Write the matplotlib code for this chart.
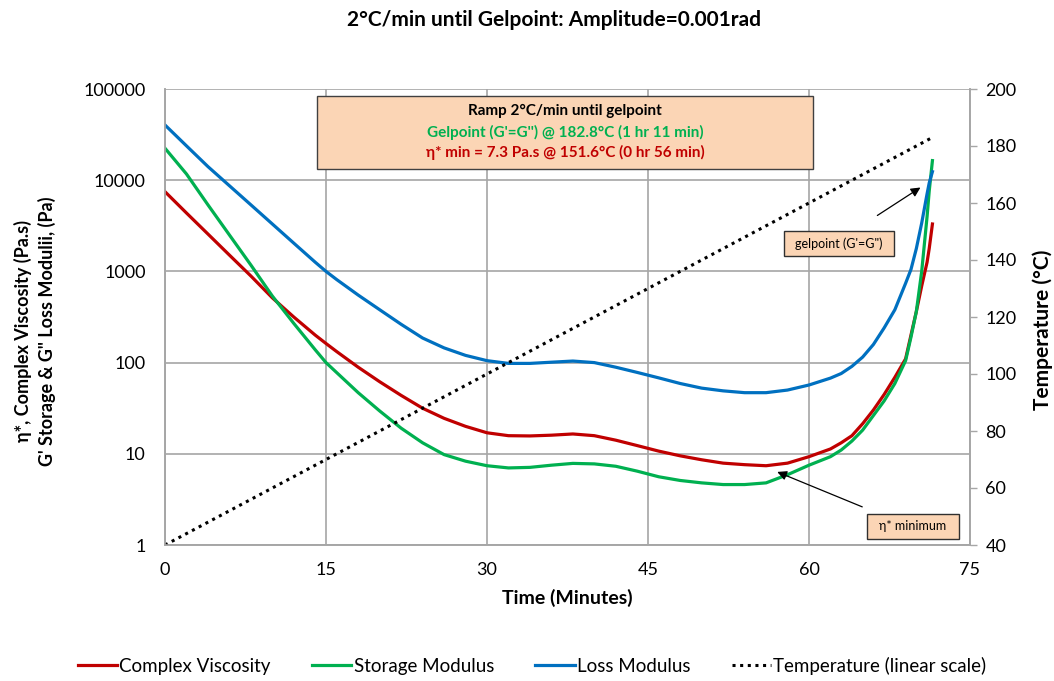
import matplotlib
matplotlib.use('Agg')
import matplotlib.pyplot as plt
from matplotlib.patches import Rectangle
from matplotlib.ticker import FixedLocator, NullLocator, FuncFormatter

plt.rcParams['font.family'] = ['Lato', 'DejaVu Sans']

# ---------------- data ----------------
time_min = [0, 2, 4, 6, 8, 10, 12, 14, 15, 16, 18, 20, 22, 24, 26, 28, 30, 32, 34, 36,
            38, 40, 42, 44, 46, 48, 50, 52, 54, 56, 58, 60, 62, 63, 64, 65, 66, 67, 68,
            69, 69.5, 70, 70.5, 71, 71.2, 71.5]

complex_viscosity = [7480, 4370, 2570, 1510, 891, 513, 316, 200, 162, 132, 89, 61.7, 43.7,
                     31.6, 24.5, 20, 17, 15.8, 15.7, 16.0, 16.5, 15.8, 14.1, 12.3, 10.7, 9.5,
                     8.6, 7.9, 7.6, 7.4, 7.9, 9.3, 11.3, 13.2, 15.8, 21.4, 30.2, 44.7, 69,
                     110, 200, 363, 692, 1260, 1780, 3310]

storage_modulus = [22400, 11700, 5370, 2510, 1175, 537, 269, 138, 100, 77.6, 46.8, 29.5, 19.1,
                   13.2, 9.8, 8.3, 7.4, 7.0, 7.1, 7.5, 7.85, 7.75, 7.3, 6.45, 5.6, 5.1,
                   4.8, 4.6, 4.6, 4.8, 5.9, 7.5, 9.3, 11, 13.8, 18.2, 26.3, 38, 59,
                   105, 190, 363, 1000, 3980, 7590, 16400]

loss_modulus = [40300, 23800, 14100, 8700, 5370, 3310, 2040, 1260, 1000, 813, 550, 380, 263,
                186, 145, 120, 105, 98, 98, 101, 104, 100, 89, 78, 68, 59,
                52.5, 49, 46.8, 46.8, 50, 56.8, 67.6, 75.9, 91, 115, 158, 240, 380,
                741, 1050, 1780, 3390, 7080, 9330, 12400]

temp_time = [0, 71.5]
temperature = [40, 183]

x_ticks = [0, 15, 30, 45, 60, 75]
y_ticks = [1, 10, 100, 1000, 10000, 100000]
t_ticks = [40, 60, 80, 100, 120, 140, 160, 180, 200]

title = "2°C/min until Gelpoint: Amplitude=0.001rad"
box_lines = ["Ramp 2°C/min until gelpoint",
             "Gelpoint (G'=G'') @ 182.8°C (1 hr 11 min)",
             "η* min = 7.3 Pa.s @ 151.6°C (0 hr 56 min)"]
legend_labels = ["Complex Viscosity", "Storage Modulus", "Loss Modulus",
                 "Temperature (linear scale)"]

RED = '#C00000'
GREEN = '#00B050'
BLUE = '#0070C0'
GRID = '#A6A6A6'
PEACH = '#FBD5B5'

W, H = 1054, 681
def fx(px):
    return px / W
def fy(py):
    return 1 - py / H

fig = plt.figure(figsize=(W / 100, H / 100), dpi=100)
ax = fig.add_axes([fx(165), fy(545), fx(970) - fx(165), fy(89) - fy(545)])
ax2 = ax.twinx()

l1, = ax.plot(time_min, complex_viscosity, color=RED, lw=2.3, label=legend_labels[0], zorder=3)
l2, = ax.plot(time_min, storage_modulus, color=GREEN, lw=2.3, label=legend_labels[1], zorder=3)
l3, = ax.plot(time_min, loss_modulus, color=BLUE, lw=2.3, label=legend_labels[2], zorder=3)
l4, = ax2.plot(temp_time, temperature, color='black', lw=2.2, linestyle=(0, (1, 1.5)),
               dash_capstyle='butt', label=legend_labels[3])

ax.set_yscale('log')
ax.set_xlim(0, 75)
ax.set_ylim(1, 100000)
ax.xaxis.set_major_locator(FixedLocator(x_ticks))
ax.yaxis.set_major_locator(FixedLocator(y_ticks))
ax.yaxis.set_minor_locator(NullLocator())
ax.yaxis.set_major_formatter(FuncFormatter(lambda v, p: f"{int(round(v))}"))
ax.grid(True, color=GRID, lw=1.2, zorder=0)
ax.set_axisbelow(True)
ax.tick_params(axis='both', length=0, labelsize=13, colors='black')
ax.tick_params(axis='x', pad=12)
ax.tick_params(axis='y', pad=14)

ax2.set_ylim(40, 200)
ax2.yaxis.set_major_locator(FixedLocator(t_ticks))
ax2.tick_params(axis='y', length=5, width=1.0, color=GRID, labelsize=13, pad=6)

for a in (ax, ax2):
    a.spines['top'].set_visible(False)
    for s in ('left', 'bottom', 'right'):
        a.spines[s].set_color(GRID)
        a.spines[s].set_linewidth(1.2)

ax.set_xlabel("Time (Minutes)", fontsize=14, fontweight='bold', labelpad=8)

fig.text(fx(554), fy(20), title, ha='center', va='center', fontsize=15, fontweight='bold')
fig.text(fx(35), fy(331), "η*, Complex Viscosity (Pa.s)\nG' Storage & G\" Loss Modulii, (Pa)",
         rotation=90, ha='center', va='center', fontsize=13, fontweight='bold',
         multialignment='center', linespacing=1.35)
fig.text(fx(1043), fy(330), "Temperature (°C)", rotation=90, ha='center', va='center',
         fontsize=15, fontweight='bold')

# main info box
fig.patches.append(Rectangle((fx(317), fy(169)), fx(813) - fx(317), fy(96) - fy(169),
                             transform=fig.transFigure, facecolor=PEACH, edgecolor='#404040',
                             lw=1.0, zorder=5))
for txt, col, py in zip(box_lines, ['black', GREEN, RED], [111, 132, 152]):
    fig.text(fx(565), fy(py), txt, ha='center', va='center', fontsize=11,
             fontweight='bold', color=col, zorder=6)

# small label boxes with arrows
ax.annotate('', xy=(70.6, 8640), xytext=(66.15, 3950),
            arrowprops=dict(arrowstyle='-|>', color='black', lw=0.9, mutation_scale=14),
            zorder=6)
ax.annotate('', xy=(56.8, 6.5), xytext=(65.2, 2.55),
            arrowprops=dict(arrowstyle='-|>', color='black', lw=0.9, mutation_scale=14),
            zorder=6)

fig.patches.append(Rectangle((fx(784), fy(256)), fx(894) - fx(784), fy(231) - fy(256),
                             transform=fig.transFigure, facecolor=PEACH, edgecolor='#303030',
                             lw=1.0, zorder=5))
fig.text(fx(839), fy(243.5), "gelpoint (G'=G\")", ha='center', va='center', fontsize=9,
         zorder=6)
fig.patches.append(Rectangle((fx(867), fy(539)), fx(959) - fx(867), fy(514) - fy(539),
                             transform=fig.transFigure, facecolor=PEACH, edgecolor='#303030',
                             lw=1.0, zorder=5))
fig.text(fx(913), fy(526.5), "η* minimum", ha='center', va='center', fontsize=9, zorder=6)

fig.legend(handles=[l1, l2, l3, l4], labels=legend_labels, loc='center',
           bbox_to_anchor=(fx(532), fy(666)), ncol=4, frameon=False, fontsize=13.5,
           handlelength=2.1, handletextpad=0.12, columnspacing=2.2)

fig.savefig('out.png', dpi=100)
